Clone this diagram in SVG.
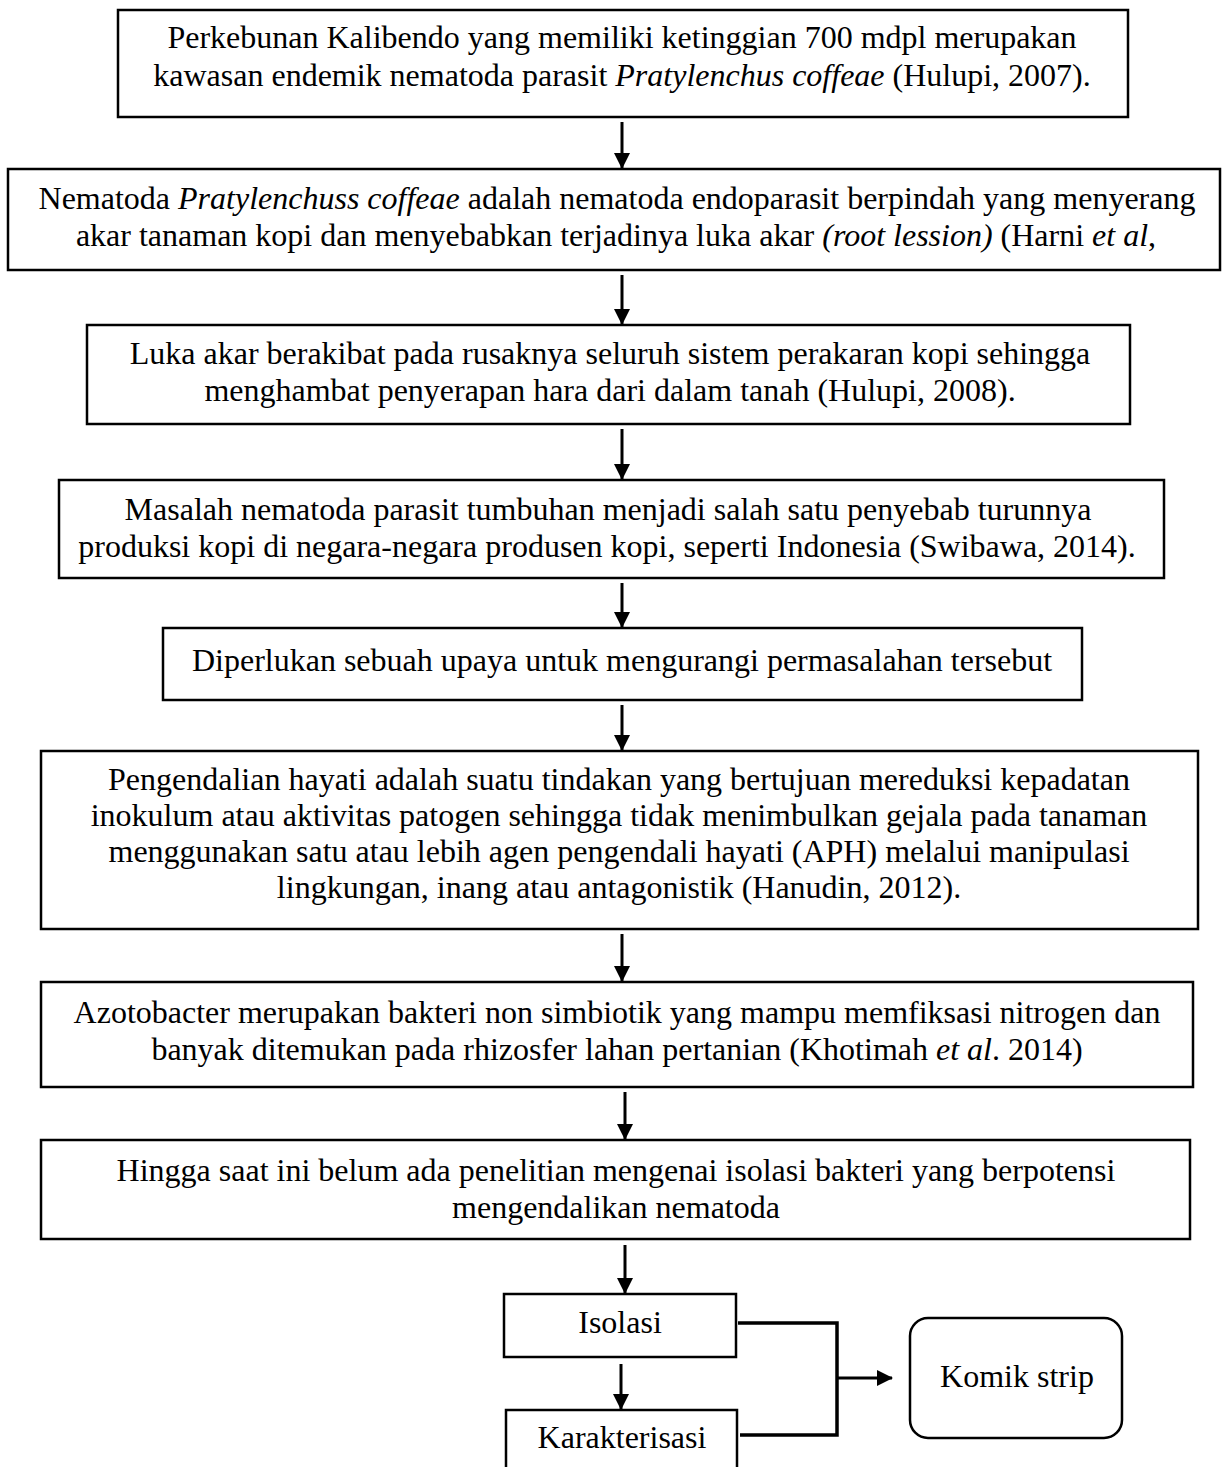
<svg xmlns="http://www.w3.org/2000/svg" width="1225" height="1467" viewBox="0 0 1225 1467">
<style>
.box{fill:#fff;stroke:#000;stroke-width:2.5}
.t{font-family:"Liberation Serif","Times New Roman",serif;font-size:32px;fill:#000;text-anchor:middle}
.i{font-style:italic}
.c{stroke:#000;stroke-width:3;fill:none}
.b{stroke:#000;stroke-width:3.5;fill:none}
</style>
<defs>
<marker id="ah" markerUnits="userSpaceOnUse" markerWidth="16" markerHeight="16" refX="15" refY="8" orient="auto">
<path d="M0,0 L16,8 L0,16 z" fill="#000"/>
</marker>
</defs>
<rect width="1225" height="1467" fill="#fff"/>
<g id="connectors">
<line class="c" x1="622" y1="122" x2="622" y2="168" marker-end="url(#ah)"/>
<line class="c" x1="622" y1="275" x2="622" y2="324" marker-end="url(#ah)"/>
<line class="c" x1="622" y1="429" x2="622" y2="479" marker-end="url(#ah)"/>
<line class="c" x1="622" y1="583" x2="622" y2="627" marker-end="url(#ah)"/>
<line class="c" x1="622" y1="705" x2="622" y2="750" marker-end="url(#ah)"/>
<line class="c" x1="622" y1="934" x2="622" y2="981" marker-end="url(#ah)"/>
<line class="c" x1="625" y1="1092" x2="625" y2="1139" marker-end="url(#ah)"/>
<line class="c" x1="625" y1="1245" x2="625" y2="1293" marker-end="url(#ah)"/>
<line class="c" x1="621" y1="1364" x2="621" y2="1409" marker-end="url(#ah)"/>
<polyline class="b" points="738,1323 837,1323 837,1435 740,1435"/>
<line class="c" x1="837" y1="1378" x2="892" y2="1378" marker-end="url(#ah)"/>
</g>
<g id="n1">
<rect class="box" x="118" y="10" width="1010" height="107"/>
<text class="t" x="622" y="48">Perkebunan Kalibendo yang memiliki ketinggian 700 mdpl merupakan</text>
<text class="t" x="622" y="86">kawasan endemik nematoda parasit <tspan class="i">Pratylenchus coffeae</tspan> (Hulupi, 2007).</text>
</g>
<g id="n2">
<rect class="box" x="8" y="169" width="1212" height="101"/>
<text class="t" x="617" y="209">Nematoda <tspan class="i">Pratylenchuss coffeae</tspan> adalah nematoda endoparasit berpindah yang menyerang</text>
<text class="t" x="616" y="246">akar tanaman kopi dan menyebabkan terjadinya luka akar <tspan class="i">(root lession)</tspan> (Harni <tspan class="i">et al</tspan>,</text>
</g>
<g id="n3">
<rect class="box" x="87" y="325" width="1043" height="99"/>
<text class="t" x="610" y="364">Luka akar berakibat pada rusaknya seluruh sistem perakaran kopi sehingga</text>
<text class="t" x="610" y="401">menghambat penyerapan hara dari dalam tanah (Hulupi, 2008).</text>
</g>
<g id="n4">
<rect class="box" x="59" y="480" width="1105" height="98"/>
<text class="t" x="608" y="520">Masalah nematoda parasit tumbuhan menjadi salah satu penyebab turunnya</text>
<text class="t" x="607" y="557">produksi kopi di negara-negara produsen kopi, seperti Indonesia (Swibawa, 2014).</text>
</g>
<g id="n5">
<rect class="box" x="163" y="628" width="919" height="72"/>
<text class="t" x="622" y="671">Diperlukan sebuah upaya untuk mengurangi permasalahan tersebut</text>
</g>
<g id="n6">
<rect class="box" x="41" y="751" width="1157" height="178"/>
<text class="t" x="619" y="790">Pengendalian hayati adalah suatu tindakan yang bertujuan mereduksi kepadatan</text>
<text class="t" x="619" y="826">inokulum atau aktivitas patogen sehingga tidak menimbulkan gejala pada tanaman</text>
<text class="t" x="619" y="862">menggunakan satu atau lebih agen pengendali hayati (APH) melalui manipulasi</text>
<text class="t" x="619" y="898">lingkungan, inang atau antagonistik (Hanudin, 2012).</text>
</g>
<g id="n7">
<rect class="box" x="41" y="982" width="1152" height="105"/>
<text class="t" x="617" y="1023">Azotobacter merupakan bakteri non simbiotik yang mampu memfiksasi nitrogen dan</text>
<text class="t" x="617" y="1060">banyak ditemukan pada rhizosfer lahan pertanian (Khotimah <tspan class="i">et al</tspan>. 2014)</text>
</g>
<g id="n8">
<rect class="box" x="41" y="1140" width="1149" height="99"/>
<text class="t" x="616" y="1181">Hingga saat ini belum ada penelitian mengenai isolasi bakteri yang berpotensi</text>
<text class="t" x="616" y="1218">mengendalikan nematoda</text>
</g>
<g id="n9">
<rect class="box" x="504" y="1294" width="232" height="63"/>
<text class="t" x="620" y="1333">Isolasi</text>
</g>
<g id="n10">
<rect class="box" x="506" y="1410" width="231" height="70"/>
<text class="t" x="622" y="1448">Karakterisasi</text>
</g>
<g id="n11">
<rect class="box" x="910" y="1318" width="212" height="120" rx="18" ry="18"/>
<text class="t" x="1017" y="1387">Komik strip</text>
</g>
</svg>
